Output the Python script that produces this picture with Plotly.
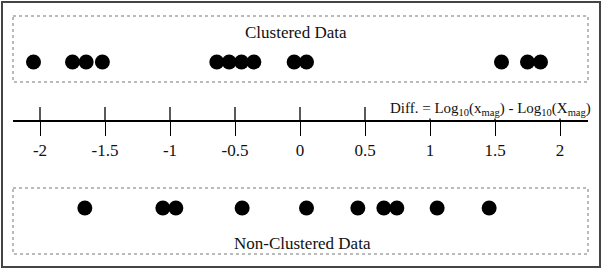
import plotly.graph_objects as go

# ---- data ----
clustered = [-2.05, -1.75, -1.645, -1.52, -0.64, -0.545, -0.45, -0.355, -0.045, 0.05, 1.55, 1.75, 1.85]
non_clustered = [-1.655, -1.055, -0.955, -0.445, 0.05, 0.445, 0.645, 0.745, 1.055, 1.455]
tick_vals = [-2, -1.5, -1, -0.5, 0, 0.5, 1, 1.5, 2]
tick_text = ["-2", "-1.5", "-1", "-0.5", "0", "0.5", "1", "1.5", "2"]
top_label = "Clustered Data"
bottom_label = "Non-Clustered Data"
axis_label = "Diff. = Log<sub>10</sub>(x<sub>mag</sub>) - Log<sub>10</sub>(X<sub>mag</sub>)"

W, H = 603, 273
FONT = "Times New Roman, Liberation Serif, DejaVu Serif, serif"
x_left, x_right = 13, 588          # axis pixel extent
px_per_unit = 130.0
x_zero = 300
rng = [(x_left - x_zero) / px_per_unit, (x_right - x_zero) / px_per_unit]

row_top_y = 62
row_bot_y = 208
axis_y = 121

fig = go.Figure()
fig.add_trace(go.Scatter(x=clustered, y=[row_top_y] * len(clustered), mode="markers",
                         marker=dict(size=15, color="black"), hoverinfo="skip", showlegend=False))
fig.add_trace(go.Scatter(x=non_clustered, y=[row_bot_y] * len(non_clustered), mode="markers",
                         marker=dict(size=15, color="black"), hoverinfo="skip", showlegend=False))

shapes = []
# outer border
shapes.append(dict(type="rect", xref="paper", yref="paper", x0=2 / W, x1=600 / W,
                   y0=1 - 267 / H, y1=1 - 2 / H, line=dict(color="#444", width=2), layer="below"))
# dotted boxes
for (y0, y1) in [(16, 82), (188, 254)]:
    shapes.append(dict(type="rect", xref="x domain", yref="y", x0=0, x1=1, y0=y0, y1=y1,
                       line=dict(color="#777", width=1, dash="dot"), layer="below"))
# upper halves of ticks
for v in tick_vals:
    shapes.append(dict(type="line", xref="x", yref="y", x0=v, x1=v, y0=107, y1=axis_y,
                       line=dict(color="black", width=1.3), layer="below"))

annotations = [
    dict(text=top_label, x=296 / W, y=32, xref="paper", yref="y", showarrow=False,
         font=dict(family=FONT, size=17, color="#111")),
    dict(text=bottom_label, x=302 / W, y=243, xref="paper", yref="y", showarrow=False,
         font=dict(family=FONT, size=17, color="#111")),
    dict(text=axis_label, x=592 / W, y=119, xref="paper", yref="y", xanchor="right", yanchor="bottom",
         showarrow=False, bgcolor="white", borderpad=0,
         font=dict(family=FONT, size=15, color="#111")),
]

fig.update_layout(
    width=W, height=H, margin=dict(l=0, r=0, t=0, b=0),
    paper_bgcolor="white", plot_bgcolor="rgba(0,0,0,0)",
    font=dict(family=FONT),
    shapes=shapes, annotations=annotations,
    xaxis=dict(domain=[x_left / W, x_right / W], range=rng, showgrid=False, zeroline=False,
               showline=True, linecolor="black", linewidth=1.5,
               anchor="free", position=1 - axis_y / H,
               tickmode="array", tickvals=tick_vals, ticktext=tick_text,
               ticks="outside", ticklen=14, tickwidth=1.3, tickcolor="black",
               ticklabelstandoff=0,
               tickfont=dict(family=FONT, size=17, color="#111")),
    yaxis=dict(domain=[0, 1], range=[H, 0], visible=False, showgrid=False, zeroline=False),
)

fig.write_html("out.html")
